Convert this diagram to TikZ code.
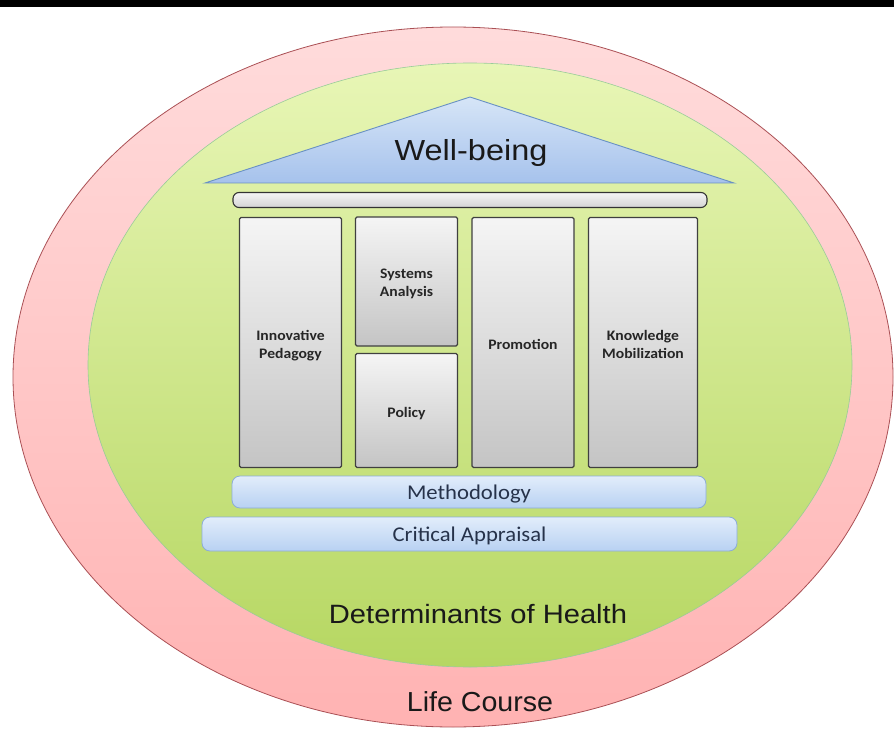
\documentclass[tikz,border=0pt]{standalone}
\usepackage{fontspec}
\setmainfont{Liberation Sans}
\newfontfamily\calfont[FakeStretch=1.08]{Carlito}
\newfontfamily\roofont[FakeStretch=1.12]{Liberation Sans}
\newfontfamily\dohfont[FakeStretch=1.10]{Liberation Sans}
\newfontfamily\lcfont[FakeStretch=1.04]{Liberation Sans}
\definecolor{pinkline}{RGB}{170,80,85}
\definecolor{greentop}{RGB}{232,246,182}
\definecolor{greenbot}{RGB}{182,215,98}
\definecolor{rooftop}{RGB}{214,229,247}
\definecolor{roofbot}{RGB}{166,194,236}
\definecolor{roofline}{RGB}{105,145,195}
\definecolor{bartop}{RGB}{226,237,251}
\definecolor{barbot}{RGB}{184,209,242}
\definecolor{barline}{RGB}{140,172,216}
\definecolor{bartxt}{RGB}{38,50,74}
\begin{document}
\begin{tikzpicture}[x=1pt,y=-1pt,
  pillar/.style={draw=black!75,line width=1.1pt,rounded corners=1.5pt,
    top color=black!4,bottom color=black!23,inner sep=0pt},
  pillartext/.style={font=\calfont\bfseries\fontsize{14.5}{18}\selectfont,text=black!85,anchor=base,inner sep=0pt},
  basebar/.style={draw=barline,line width=0.8pt,rounded corners=8pt,
    top color=bartop,bottom color=barbot,inner sep=0pt},
  bartext/.style={font=\calfont\fontsize{21}{24}\selectfont,text=bartxt,anchor=base,inner sep=0pt},
  bigtext/.style={text=black!90,anchor=base,inner sep=0pt}]
\useasboundingbox (0,0) rectangle (894,730);
\fill[white] (0,0) rectangle (894,730);
\fill[black] (0,0) rectangle (894,7);
% outer ellipse
\draw[draw=pinkline,line width=0.8pt,top color=red!14,bottom color=red!30]
  (453,377) ellipse [x radius=440pt, y radius=350pt];
% inner ellipse
\draw[draw=green!50!black!40,line width=0.6pt,top color=greentop,bottom color=greenbot]
  (470,365) ellipse [x radius=382pt, y radius=302pt];
% roof
\coordinate (apex) at (470,97);
\coordinate (roofL) at (205,183);
\coordinate (roofR) at (734,183);
\draw[draw=roofline,line width=0.9pt,top color=rooftop,bottom color=roofbot]
  (apex) -- (roofR) -- (roofL) -- cycle;
\node[bigtext,font=\roofont\fontsize{29}{34}\selectfont] (wb) at (471,161) {Well-being};
% entablature
\node[draw=black!80,line width=1.1pt,rounded corners=6pt,top color=black!4,bottom color=black!17,
  minimum width=474pt,minimum height=15pt,inner sep=0pt] (ent) at (470,200) {};
% pillars
\node[pillar,minimum width=102pt,minimum height=250pt] (ip) at (290.5,342.5) {};
\node[pillar,minimum width=102pt,minimum height=129pt] (sa) at (406.5,281.5) {};
\node[pillar,minimum width=102pt,minimum height=114pt] (po) at (406.5,410.5) {};
\node[pillar,minimum width=102pt,minimum height=250pt] (pr) at (523,342.5) {};
\node[pillar,minimum width=109pt,minimum height=250pt] (km) at (643,342.5) {};
\node[pillartext] (ipt1) at (290.5,340) {Innovative};
\node[pillartext] (ipt2) at (290.5,358) {Pedagogy};
\node[pillartext] (sat1) at (406.5,278) {Systems};
\node[pillartext] (sat2) at (406.5,296) {Analysis};
\node[pillartext] (pot) at (406.5,417) {Policy};
\node[pillartext] (prt) at (523,349) {Promotion};
\node[pillartext] (kmt1) at (643,340) {Knowledge};
\node[pillartext] (kmt2) at (643,358) {Mobilization};
% base bars
\node[basebar,minimum width=474pt,minimum height=32pt] (meth) at (469,492) {};
\node[bartext] (metht) at (469,499) {Methodology};
\node[basebar,minimum width=535pt,minimum height=34pt] (ca) at (469.5,534) {};
\node[bartext] (cat) at (469.5,541) {Critical Appraisal};
% labels
\node[bigtext,font=\dohfont\fontsize{26.5}{31}\selectfont] (doh) at (478,623) {Determinants of Health};
\node[bigtext,font=\lcfont\fontsize{27.5}{32}\selectfont] (lc) at (480,711) {Life Course};
\end{tikzpicture}
\end{document}
